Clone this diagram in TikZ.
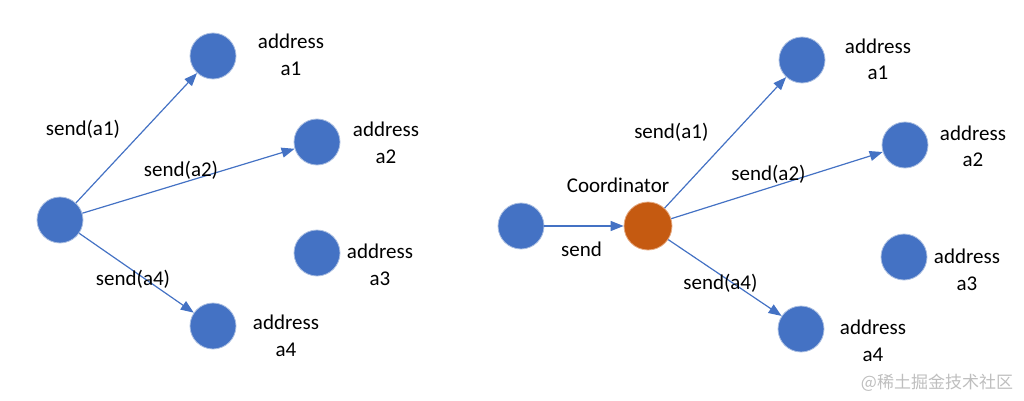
\documentclass[tikz,border=0pt]{standalone}
\usepackage{fontspec}
\setmainfont{Carlito}
\newfontfamily\cjk{Noto Sans CJK SC}
\usetikzlibrary{arrows.meta,positioning}
\definecolor{nodeblue}{RGB}{68,114,196}
\definecolor{rimblue}{RGB}{170,190,225}
\definecolor{coordorange}{RGB}{197,90,17}
\definecolor{rimorange}{RGB}{230,170,130}
\definecolor{wmgray}{RGB}{190,190,190}

\begin{document}
\begin{tikzpicture}[
  x=1pt, y=-1pt,
  dot/.style={circle, fill=nodeblue, draw=rimblue, line width=0.8pt, minimum size=46pt, inner sep=0pt},
  hub/.style={dot, fill=coordorange, draw=rimorange, minimum size=48pt},
  addr/.style={align=center, font=\fontsize{21}{26.5}\selectfont, inner sep=0pt},
  lbl/.style={text=black, font=\fontsize{21}{25}\selectfont, inner sep=0pt},
  arr/.style={-{Triangle[length=13pt,width=10pt]}, line width=1.2pt, nodeblue}
]
\useasboundingbox (0,0) rectangle (1024,401);

% left: direct sends
\node[dot] (src) at (60,220) {};
\node[dot] (a1) at (213,56) {};
\node[dot] (a2) at (317,142) {};
\node[dot] (a3) at (317,253) {};
\node[dot] (a4) at (213,326) {};
\node[addr] (la1) at (291,55) {address\\a1};
\node[addr] (la2) at (386,143) {address\\a2};
\node[addr] (la3) at (380,265) {address\\a3};
\node[addr] (la4) at (286,336) {address\\a4};

\draw[arr](src)--node[lbl,xshift=-53.5pt,yshift=9pt]{send(a1)}(a1);
\draw[arr](src)--node[lbl,xshift=-7.5pt,yshift=11pt]{send(a2)}(a2);
\draw[arr](src)--node[lbl,xshift=-3.5pt,yshift=-6pt]{send(a4)}(a4);

% right: through the coordinator
\node[dot] (cl) at (521,226) {};
\node[hub] (co) at (648,226) {};
\node[lbl] (lco) at (618,185) {Coordinator};
\node[dot] (b1) at (802,60) {};
\node[dot] (b2) at (905,145) {};
\node[dot] (b3) at (904,257) {};
\node[dot] (b4) at (801,329) {};
\node[addr] (lb1) at (878,59.5) {address\\a1};
\node[addr] (lb2) at (973,146.5) {address\\a2};
\node[addr] (lb3) at (967,270) {address\\a3};
\node[addr] (lb4) at (873,341) {address\\a4};

\draw[arr](cl)--node[lbl,xshift=-2.5pt,yshift=-23pt]{send}(co);
\draw[arr](co)--node[lbl,xshift=-54pt,yshift=10pt]{send(a1)}(b1);
\draw[arr](co)--node[lbl,xshift=-8.5pt,yshift=11.5pt]{send(a2)}(b2);
\draw[arr](co)--node[lbl,xshift=-4.5pt,yshift=-5.5pt]{send(a4)}(b4);

\node[text=wmgray, font=\cjk\fontsize{17}{20}\selectfont, inner sep=0pt] (wm) at (937,383) {@稀土掘金技术社区};
\end{tikzpicture}
\end{document}
